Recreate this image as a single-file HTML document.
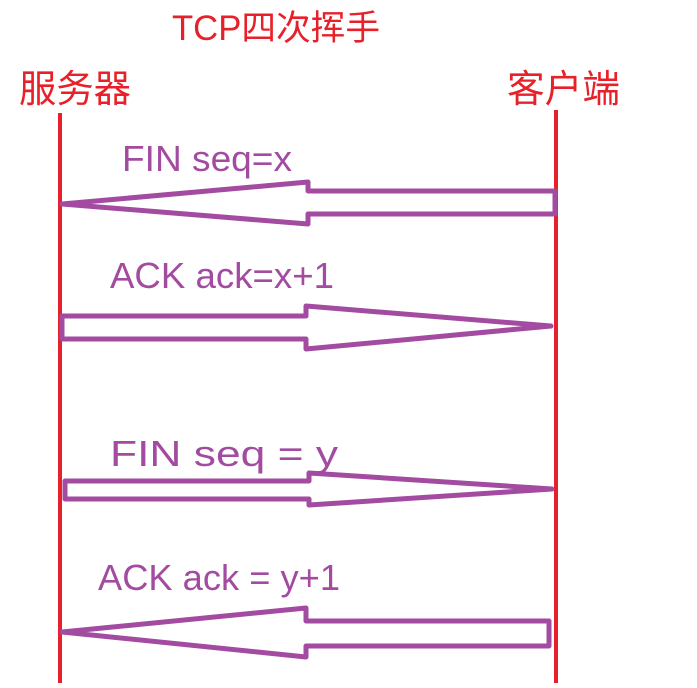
<!DOCTYPE html>
<html><head><meta charset="utf-8"><style>html,body{margin:0;padding:0;background:#fff}</style></head>
<body>
<svg width="697" height="683" viewBox="0 0 697 683" xmlns="http://www.w3.org/2000/svg">
<rect width="697" height="683" fill="#fff"/>
<g font-family="Liberation Sans, Noto Sans CJK SC, sans-serif" fill="#e8202a">
<text x="172" y="40" font-size="35" textLength="208" lengthAdjust="spacingAndGlyphs">TCP四次挥手</text>
<text x="19" y="102" font-size="38" textLength="112" lengthAdjust="spacingAndGlyphs">服务器</text>
<text x="507" y="102" font-size="38" textLength="113" lengthAdjust="spacingAndGlyphs">客户端</text>
</g>
<line x1="60" y1="113" x2="60" y2="683" stroke="#e8202a" stroke-width="4"/>
<line x1="556" y1="110" x2="556" y2="683" stroke="#e8202a" stroke-width="4"/>
<g fill="none" stroke="#a24ba0" stroke-width="5" stroke-linejoin="round">
<polygon points="62,204 308,182 308,191 555,191 555,214 308,214 308,224"/>
<polygon points="62,316 306,316 306,306 551,326 306,349 306,339 62,339"/>
<polygon points="65,481 309,481 309,473 552,489 309,505 309,499 65,499"/>
<polygon points="62,632 306,608 306,621 549,621 549,646 306,646 306,657"/>
</g>
<g font-family="Liberation Sans, sans-serif" fill="#a24ba0" font-size="36" xml:space="preserve">
<text x="122" y="171" textLength="170" lengthAdjust="spacingAndGlyphs">FIN seq=x</text>
<text x="110" y="288" textLength="224" lengthAdjust="spacingAndGlyphs">ACK  ack=x+1</text>
<text x="110" y="466" textLength="228" lengthAdjust="spacingAndGlyphs">FIN  seq = y</text>
<text x="98" y="590" textLength="242" lengthAdjust="spacingAndGlyphs">ACK ack = y+1</text>
</g>
</svg>
</body></html>
